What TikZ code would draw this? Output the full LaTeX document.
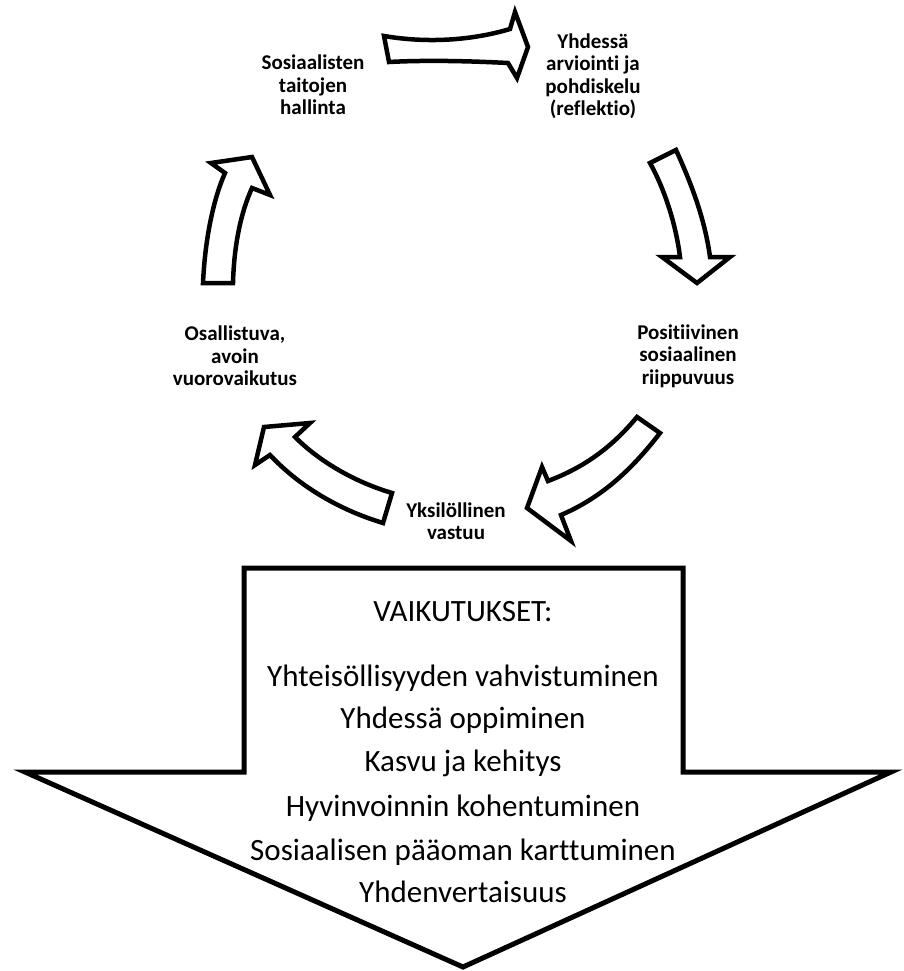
\documentclass[tikz,border=0pt]{standalone}
\usepackage{fontspec}
\setmainfont{Carlito}[Ligatures=NoCommon]
\begin{document}
\begin{tikzpicture}[x=1pt,y=-1pt,
  curvearrow/.style={draw=black,line width=4.5pt,fill=white,line join=miter},
  bigarrow/.style={draw=black,line width=5pt,fill=white,line join=miter},
  lbl/.style={font=\fontsize{21}{22.5}\selectfont\bfseries,align=center,inner sep=0pt},
  eff/.style={font=\fontsize{31}{36}\selectfont,inner sep=0pt}]
\useasboundingbox (0,0) rectangle (904,971);
\fill[white] (0,0) rectangle (904,971);
% big downward arrow
\draw[bigarrow] (244,568) -- (683,568) -- (683,772) -- (891,772) -- (463,967) -- (25,772) -- (244,772) -- cycle;
% curved arrows
\draw[curvearrow] (384,36) .. controls (425,43) and (470,41) .. (510,29) -- (515,12) -- (528,47) -- (517,78) -- (508,63) .. controls (470,61) and (425,60) .. (389,62) -- cycle;
\draw[curvearrow] (650,163) -- (676,150) .. controls (692,185) and (705,220) .. (710,257) -- (730,257) -- (697,283) -- (662,257) -- (680,257) .. controls (676,225) and (665,190) .. (650,163) -- cycle;
\draw[curvearrow] (637,417) -- (660,433) .. controls (633,468) and (603,497) .. (561,515) -- (571,541) -- (527,508) -- (542,467) -- (548,481) .. controls (585,467) and (612,447) .. (637,417) -- cycle;
\draw[curvearrow] (392,493) -- (383,523) .. controls (340,510) and (300,487) .. (270,455) -- (255,465) -- (264,427) -- (310,423) -- (295,437) .. controls (320,462) and (355,482) .. (392,493) -- cycle;
\draw[curvearrow] (203,283) -- (233,283) .. controls (234,245) and (241,212) .. (252,188) -- (270,195) -- (252,157) -- (211,163) -- (225,173) .. controls (213,200) and (205,240) .. (203,283) -- cycle;
% labels
\node[lbl] (sos) at (313,85) {Sosiaalisten\\taitojen\\hallinta};
\node[lbl] (yhd) at (593,76) {Yhdessä\\arviointi ja\\pohdiskelu\\(reflektio)};
\node[lbl] (pos) at (688,356) {Positiivinen\\sosiaalinen\\riippuvuus};
\node[lbl] (yks) at (456,521) {Yksilöllinen\\vastuu};
\node[lbl] (osa) at (235,356) {Osallistuva,\\avoin\\vuorovaikutus};
% effects
\node[eff] (title) at (463,612) {VAIKUTUKSET:};
\node[eff] (e1) at (463,678) {Yhteisöllisyyden vahvistuminen};
\node[eff] (e2) at (463,720) {Yhdessä oppiminen};
\node[eff] (e3) at (463,763) {Kasvu ja kehitys};
\node[eff] (e4) at (463,808) {Hyvinvoinnin kohentuminen};
\node[eff] (e5) at (463,852) {Sosiaalisen pääoman karttuminen};
\node[eff] (e6) at (463,892) {Yhdenvertaisuus};
\end{tikzpicture}
\end{document}
